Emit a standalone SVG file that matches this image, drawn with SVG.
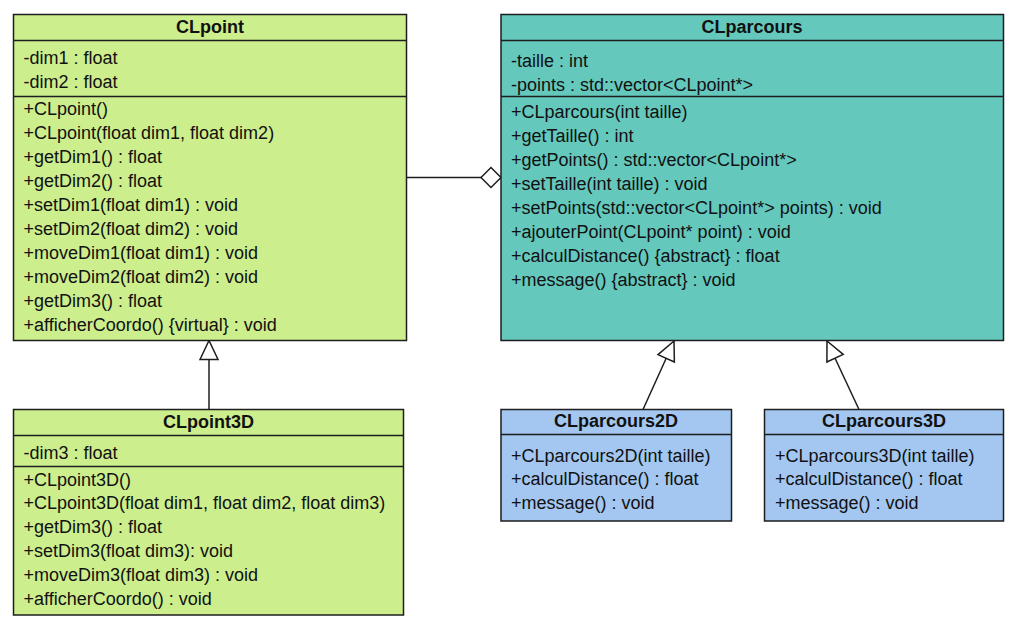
<svg xmlns="http://www.w3.org/2000/svg" width="1021" height="633" viewBox="0 0 1021 633">
<style>
  .box { stroke: #1e1e1e; stroke-width: 1.5; }
  .green { fill: #cdee8c; }
  .teal { fill: #65c8bd; }
  .blue { fill: #a3c7f0; }
  .div { stroke: #1e1e1e; stroke-width: 1.5; fill: none; }
  .title { font-family: "Liberation Sans", Arial, sans-serif; font-size: 18px; font-weight: bold; fill: #111; text-anchor: middle; }
  .row { font-family: "Liberation Sans", Arial, sans-serif; font-size: 18px; fill: #111; }
  .edge { stroke: #1e1e1e; stroke-width: 1.5; fill: none; }
</style>
<defs>
  <marker id="inherit" markerUnits="userSpaceOnUse" markerWidth="21" markerHeight="20" refX="19" refY="9" orient="auto" overflow="visible">
    <path d="M0,0 L19,9 L0,18 Z" fill="#ffffff" stroke="#1e1e1e" stroke-width="1.5"/>
  </marker>
  <marker id="aggr" markerUnits="userSpaceOnUse" markerWidth="22" markerHeight="22" refX="20" refY="10" orient="auto" overflow="visible">
    <path d="M0,10 L10,0 L20,10 L10,20 Z" fill="#ffffff" stroke="#1e1e1e" stroke-width="1.5"/>
  </marker>
</defs>
<rect width="1021" height="633" fill="#ffffff"/>

<g id="connectors">
  <line class="edge" x1="406.5" y1="177.5" x2="501" y2="177.5" marker-end="url(#aggr)"/>
  <line class="edge" x1="209" y1="409.5" x2="209" y2="340.5" marker-end="url(#inherit)"/>
  <line class="edge" x1="643" y1="409.5" x2="674" y2="341" marker-end="url(#inherit)"/>
  <line class="edge" x1="859" y1="409.5" x2="827" y2="341" marker-end="url(#inherit)"/>
</g>

<g id="CLpoint">
  <rect class="box green" x="13.5" y="14.5" width="393" height="326"/>
  <line class="div" x1="13.5" y1="40.5" x2="406.5" y2="40.5"/>
  <line class="div" x1="13.5" y1="96.5" x2="406.5" y2="96.5"/>
  <text class="title" x="210" y="33">CLpoint</text>
  <text class="row" x="23.5" y="64">-dim1 : float</text>
  <text class="row" x="23.5" y="88">-dim2 : float</text>
  <text class="row" x="23.5" y="114.5">+CLpoint()</text>
  <text class="row" x="23.5" y="138.5">+CLpoint(float dim1, float dim2)</text>
  <text class="row" x="23.5" y="162.5">+getDim1() : float</text>
  <text class="row" x="23.5" y="186.5">+getDim2() : float</text>
  <text class="row" x="23.5" y="210.5">+setDim1(float dim1) : void</text>
  <text class="row" x="23.5" y="234.5">+setDim2(float dim2) : void</text>
  <text class="row" x="23.5" y="258.5">+moveDim1(float dim1) : void</text>
  <text class="row" x="23.5" y="282.5">+moveDim2(float dim2) : void</text>
  <text class="row" x="23.5" y="306.5">+getDim3() : float</text>
  <text class="row" x="23.5" y="330.5">+afficherCoordo() {virtual} : void</text>
</g>

<g id="CLpoint3D">
  <rect class="box green" x="13.5" y="409.5" width="390" height="205.5"/>
  <line class="div" x1="13.5" y1="435.5" x2="403.5" y2="435.5"/>
  <line class="div" x1="13.5" y1="466.5" x2="403.5" y2="466.5"/>
  <text class="title" x="208.5" y="427.5">CLpoint3D</text>
  <text class="row" x="23.5" y="458.5">-dim3 : float</text>
  <text class="row" x="23.5" y="485.5">+CLpoint3D()</text>
  <text class="row" x="23.5" y="509.3">+CLpoint3D(float dim1, float dim2, float dim3)</text>
  <text class="row" x="23.5" y="533.1">+getDim3() : float</text>
  <text class="row" x="23.5" y="556.9">+setDim3(float dim3): void</text>
  <text class="row" x="23.5" y="580.7">+moveDim3(float dim3) : void</text>
  <text class="row" x="23.5" y="604.5">+afficherCoordo() : void</text>
</g>

<g id="CLparcours">
  <rect class="box teal" x="501" y="14.5" width="502.5" height="326"/>
  <line class="div" x1="501" y1="40.5" x2="1003.5" y2="40.5"/>
  <line class="div" x1="501" y1="96.5" x2="1003.5" y2="96.5"/>
  <text class="title" x="752" y="33">CLparcours</text>
  <text class="row" x="511" y="66.5">-taille : int</text>
  <text class="row" x="511" y="90.5">-points : std::vector&lt;CLpoint*&gt;</text>
  <text class="row" x="511" y="117.5">+CLparcours(int taille)</text>
  <text class="row" x="511" y="141.5">+getTaille() : int</text>
  <text class="row" x="511" y="165.5">+getPoints() : std::vector&lt;CLpoint*&gt;</text>
  <text class="row" x="511" y="189.5">+setTaille(int taille) : void</text>
  <text class="row" x="511" y="213.5">+setPoints(std::vector&lt;CLpoint*&gt; points) : void</text>
  <text class="row" x="511" y="237.5">+ajouterPoint(CLpoint* point) : void</text>
  <text class="row" x="511" y="261.5">+calculDistance() {abstract} : float</text>
  <text class="row" x="511" y="285.5">+message() {abstract} : void</text>
</g>

<g id="CLparcours2D">
  <rect class="box blue" x="501" y="409.5" width="230.5" height="111.5"/>
  <line class="div" x1="501" y1="434.5" x2="731.5" y2="434.5"/>
  <text class="title" x="616" y="427">CLparcours2D</text>
  <text class="row" x="511" y="461.5">+CLparcours2D(int taille)</text>
  <text class="row" x="511" y="485">+calculDistance() : float</text>
  <text class="row" x="511" y="508.5">+message() : void</text>
</g>

<g id="CLparcours3D">
  <rect class="box blue" x="764.5" y="409.5" width="239" height="111.5"/>
  <line class="div" x1="764.5" y1="434.5" x2="1003.5" y2="434.5"/>
  <text class="title" x="884" y="427">CLparcours3D</text>
  <text class="row" x="775" y="461.5">+CLparcours3D(int taille)</text>
  <text class="row" x="775" y="485">+calculDistance() : float</text>
  <text class="row" x="775" y="508.5">+message() : void</text>
</g>
</svg>
